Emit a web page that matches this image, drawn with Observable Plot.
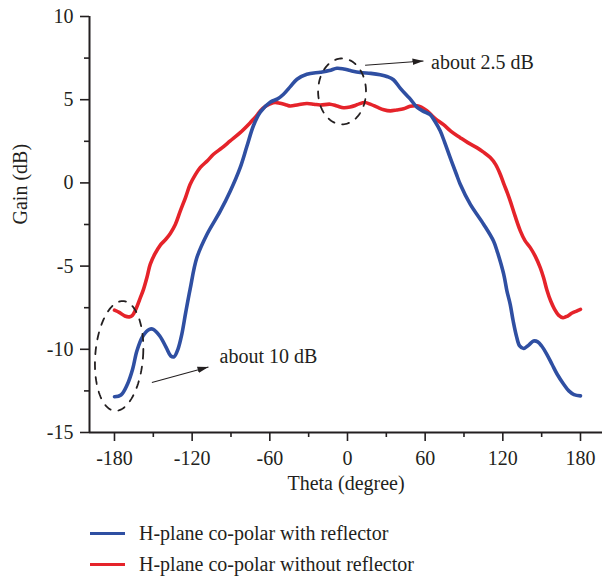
<!DOCTYPE html>
<html><head><meta charset="utf-8">
<script src="https://cdn.jsdelivr.net/npm/d3@7"></script>
<script src="https://cdn.jsdelivr.net/npm/@observablehq/plot@0.6"></script>
<style>
body{margin:0;background:#fff;font-family:"Liberation Serif",serif;color:#231f20}
#legend{margin-left:90px;padding-top:8px;font-size:20px}
.row{display:flex;align-items:center;height:31px}
.sw{width:35px;height:3px;margin-right:14px}
</style></head><body>
<div id="chart"></div>
<div id="legend"></div>
<script>
// ---- data ----
const seriesNames = ["H-plane co-polar with reflector", "H-plane co-polar without reflector"];
const seriesColors = ["#2f4fa2", "#e5232a"];

const thetaBlue = [-180,-175,-170,-166,-162.7,-158,-153,-150,-145,-140,-136.5,-134,-131,-128,-125,-121.6,-116.4,-108.6,-98.3,-90.6,-82.9,-77.7,-72.6,-67.4,-59.7,-54,-49.4,-44,-39,-31.4,-21,-14,-8.2,-3,2.2,9.8,18,25.3,31,35.5,40.7,45.9,48.4,53.6,58,63.9,67.5,71.6,75,79.4,84,87.1,94.8,105.1,112.8,116,118.5,121,123.2,125.7,128,130.5,133,136,140,143.7,147,150,154,158,162,167,171,175,180];
const gainBlue = [-12.85,-12.75,-12.1,-11.2,-10.1,-9.2,-8.8,-8.8,-9.2,-9.9,-10.4,-10.45,-10.0,-9.1,-7.8,-6.4,-4.5,-3.1,-1.7,-0.5,0.92,2.2,3.45,4.25,4.85,5.05,5.33,5.8,6.23,6.53,6.65,6.75,6.89,6.85,6.75,6.63,6.58,6.5,6.38,6.2,5.7,5.25,5.05,4.55,4.33,4.1,3.7,3.13,2.45,1.5,0.55,-0.08,-1.28,-2.48,-3.49,-4.2,-4.85,-5.6,-6.5,-7.3,-8.3,-9.2,-9.8,-9.95,-9.75,-9.5,-9.55,-9.8,-10.3,-10.9,-11.5,-12.1,-12.5,-12.72,-12.8];

const thetaRed = [-180,-176,-172,-168.5,-166,-163,-160,-157.6,-155,-152.4,-149,-144.7,-140.5,-137,-133,-129.2,-125,-121.6,-117.5,-113.8,-108,-103.5,-97,-90.6,-82.9,-75.1,-70,-67.4,-63,-59.7,-56,-52,-47,-44.3,-38,-31.4,-26,-21,-13.4,-8,-3,2,6,9,13.5,18,23,28,33,38,43.3,48.4,53.6,57,61,63.9,68,74.2,80,87.1,93,99.9,105,110.3,114.5,118,121,123.5,125.7,129.5,133.5,137,141.2,145,148.9,151.5,154.1,157,160,163,166.5,170,173.5,177,180];
const gainRed = [-7.65,-7.8,-8.0,-8.05,-7.95,-7.5,-6.9,-6.4,-5.7,-4.9,-4.3,-3.75,-3.4,-3.05,-2.5,-1.7,-0.85,-0.1,0.5,0.92,1.35,1.72,2.1,2.52,3.02,3.62,4.05,4.33,4.62,4.75,4.83,4.78,4.68,4.62,4.7,4.77,4.73,4.68,4.73,4.62,4.52,4.56,4.65,4.75,4.83,4.72,4.55,4.4,4.33,4.38,4.45,4.6,4.63,4.55,4.35,4.15,3.85,3.5,3.1,2.72,2.42,2.12,1.85,1.52,1.1,0.52,-0.1,-0.6,-1.08,-2.0,-2.88,-3.45,-3.89,-4.4,-5.09,-5.7,-6.45,-7.1,-7.6,-7.95,-8.1,-8.0,-7.82,-7.7,-7.6];

const xTicks = [-180,-120,-60,0,60,120,180];
const xMinorTicks = [-150,-90,-30,30,90,150];
const yTicks = [-15,-10,-5,0,5,10];
const yMinorTicks = [-12.5,-7.5,-2.5,2.5,7.5];
const xDomain = [-199.3, 197];
const yDomain = [-15, 10];
const xLabel = "Theta (degree)";
const yLabel = "Gain (dB)";

// annotations (data coordinates)
const ellCx = [-4.2, -176.4];
const ellCy = [5.5, -10.4];
const ellRx = [18.5, 18.5];
const ellRy = [1.98, 3.3];
const ellShear = [0, 2.7];
const arrowX1 = [13.6, -151.1];
const arrowY1 = [7.07, -12.0];
const arrowX2 = [58.7, -107.4];
const arrowY2 = [7.33, -11.06];
const noteX = [64.6, -98.8];
const noteY = [7.2, -10.45];
const noteText = ["about 2.5 dB", "about 10 dB"];

// ---- build ----
const ink = "#231f20";
const blue = thetaBlue.map((t, i) => ({theta: t, gain: gainBlue[i]}));
const red = thetaRed.map((t, i) => ({theta: t, gain: gainRed[i]}));

const ellipses = [];
ellCx.forEach((cx, k) => {
  for (let i = 0; i <= 120; i++) {
    const a = (i / 120) * 2 * Math.PI;
    ellipses.push({k, x: cx + ellRx[k] * Math.cos(a) + ellShear[k] * Math.sin(a), y: ellCy[k] + ellRy[k] * Math.sin(a)});
  }
});
const arrows = arrowX1.map((x, i) => ({x1: x, y1: arrowY1[i], x2: arrowX2[i], y2: arrowY2[i]}));
const notes = noteX.map((x, i) => ({x, y: noteY[i], text: noteText[i]}));

function headMarker(color) {
  const m = d3.create("svg:marker")
    .attr("viewBox", "-11 -4 11 8")
    .attr("markerWidth", 11).attr("markerHeight", 8)
    .attr("markerUnits", "userSpaceOnUse")
    .attr("orient", "auto")
    .attr("fill", ink).attr("stroke", "none");
  m.append("path").attr("d", "M-11,-3.2L0,0L-11,3.2Z");
  return m.node();
}

const fmt = d => String(d);

const chart = Plot.plot({
  width: 602,
  height: 510,
  marginLeft: 89,
  marginRight: 0,
  marginTop: 16,
  marginBottom: 78,
  style: {fontFamily: "'Liberation Serif', serif", fontSize: "20px", color: ink, background: "#fff"},
  x: {domain: xDomain},
  y: {domain: yDomain},
  marks: [
    Plot.axisX({ticks: xTicks, tickFormat: fmt, tickSize: 9, tickPadding: 9, fontSize: 20, label: null, stroke: ink, strokeWidth: 1.6, fill: ink}),
    Plot.axisX({ticks: xMinorTicks, tickSize: 5, tickFormat: () => "", label: null, stroke: ink, strokeWidth: 1.6}),
    Plot.axisY({ticks: yTicks, tickFormat: fmt, tickSize: 9, tickPadding: 7, fontSize: 20, label: null, stroke: ink, strokeWidth: 1.6, fill: ink}),
    Plot.axisY({ticks: yMinorTicks, tickSize: 5, tickFormat: () => "", label: null, stroke: ink, strokeWidth: 1.6}),
    Plot.ruleY([yDomain[0]], {stroke: ink, strokeWidth: 2}),
    Plot.ruleX([xDomain[0]], {y1: yDomain[0], y2: yDomain[1], stroke: ink, strokeWidth: 2}),
    Plot.line(red, {x: "theta", y: "gain", stroke: seriesColors[1], strokeWidth: 3.6, curve: "catmull-rom"}),
    Plot.line(blue, {x: "theta", y: "gain", stroke: seriesColors[0], strokeWidth: 3.6, curve: "catmull-rom"}),
    Plot.line(ellipses, {x: "x", y: "y", z: "k", stroke: ink, strokeWidth: 1.8, strokeDasharray: "7,8", curve: "linear"}),
    Plot.link(arrows, {x1: "x1", y1: "y1", x2: "x2", y2: "y2", stroke: ink, strokeWidth: 1.1, markerEnd: headMarker}),
    Plot.text(notes, {x: "x", y: "y", text: "text", textAnchor: "start", fontSize: 20, fill: ink}),
    Plot.text([xLabel], {frameAnchor: "bottom", dy: 57, fontSize: 20, fill: ink}),
    Plot.text([yLabel], {frameAnchor: "left", dx: -69, rotate: -90, fontSize: 20, fill: ink})
  ]
});
document.getElementById("chart").appendChild(chart);

const legend = document.getElementById("legend");
seriesNames.forEach((name, i) => {
  const row = document.createElement("div");
  row.className = "row";
  const sw = document.createElement("div");
  sw.className = "sw";
  sw.style.background = seriesColors[i];
  const lab = document.createElement("span");
  lab.textContent = name;
  row.appendChild(sw); row.appendChild(lab);
  legend.appendChild(row);
});
</script>
</body></html>
